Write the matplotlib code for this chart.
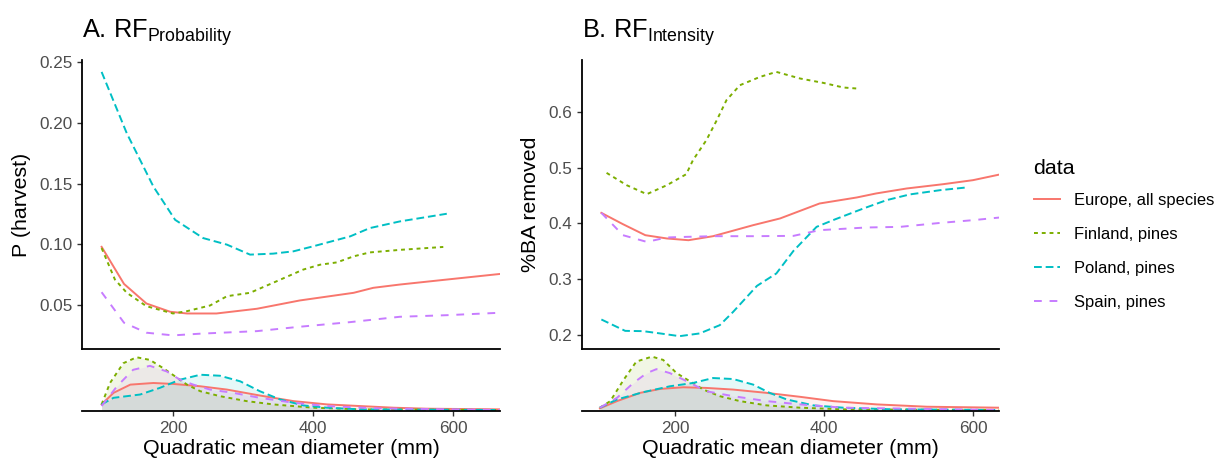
import matplotlib.pyplot as plt
from matplotlib.lines import Line2D

plt.rcParams['font.family'] = ['Liberation Sans', 'DejaVu Sans']
plt.rcParams['mathtext.fontset'] = 'custom'
plt.rcParams['mathtext.rm'] = 'Liberation Sans'

# series names, colours and line types
labels = ["Europe, all species", "Finland, pines", "Poland, pines", "Spain, pines"]
colors = ["#F8766D", "#7CAE00", "#00BFC4", "#C77CFF"]
styles = ["-", (0, (2, 2)), (0, (4, 2)), (0, (4, 4))]

# A. RF probability curves (x = QMD mm, y = P harvest)
prob_eu_x = [98, 130, 162, 196, 220, 262, 320, 381, 458, 486, 524, 591, 667]
prob_eu_y = [0.098, 0.0675, 0.0514, 0.0446, 0.0432, 0.0432, 0.0471, 0.0539, 0.0602, 0.0643, 0.067, 0.0711, 0.0757]
prob_fi_x = [98, 117, 134, 162, 200, 220, 253, 277, 310, 348, 386, 410, 434, 458, 481, 524, 586]
prob_fi_y = [0.097, 0.0711, 0.0602, 0.0492, 0.0432, 0.0451, 0.0498, 0.0574, 0.0602, 0.0697, 0.0793,
             0.0833, 0.0852, 0.0902, 0.0934, 0.0955, 0.0979]
prob_pl_x = [98, 134, 172, 203, 243, 277, 310, 343, 372, 400, 453, 481, 524, 591]
prob_pl_y = [0.2418, 0.1913, 0.1475, 0.1202, 0.1052, 0.0998, 0.0916, 0.0924, 0.0943, 0.0984, 0.1066,
             0.1134, 0.1189, 0.1252]
prob_es_x = [98, 130, 162, 200, 239, 320, 381, 453, 524, 591, 667]
prob_es_y = [0.0607, 0.0356, 0.0274, 0.0252, 0.0266, 0.0287, 0.0323, 0.0361, 0.0405, 0.0418, 0.0438]

# B. RF intensity curves (x = QMD mm, y = share of BA removed)
int_eu_x = [101, 130, 160, 189, 218, 251, 305, 341, 394, 444, 470, 511, 560, 600, 636]
int_eu_y = [0.419, 0.3987, 0.379, 0.3731, 0.37, 0.3772, 0.397, 0.409, 0.4358, 0.4466, 0.4538, 0.4627,
            0.4704, 0.4776, 0.4878]
int_fi_x = [108, 135, 162, 189, 215, 224, 242, 256, 269, 287, 314, 336, 368, 399, 426, 444]
int_fi_y = [0.4907, 0.4686, 0.4525, 0.4686, 0.4883, 0.5134, 0.5493, 0.5851, 0.621, 0.6478, 0.6627,
            0.6717, 0.6598, 0.652, 0.6437, 0.6419]
int_pl_x = [101, 133, 157, 180, 206, 233, 260, 278, 310, 336, 359, 390, 412, 453, 484, 515, 556, 591]
int_pl_y = [0.2279, 0.2075, 0.207, 0.2029, 0.198, 0.2029, 0.2177, 0.2416, 0.2882, 0.3104, 0.3509,
            0.3939, 0.4059, 0.4269, 0.4418, 0.452, 0.4597, 0.4645]
int_es_x = [101, 130, 162, 189, 215, 251, 305, 359, 394, 457, 502, 556, 600, 636]
int_es_y = [0.419, 0.379, 0.367, 0.3749, 0.376, 0.3772, 0.3772, 0.3778, 0.388, 0.3928, 0.3939, 0.401,
            0.4059, 0.4107]

# QMD density strips under each panel (relative density)
dens_a_eu_x = [98, 115, 139, 172, 201, 239, 277, 324, 372, 420, 467, 515, 562, 667]
dens_a_eu_y = [17, 52, 77, 82, 79, 72, 62, 44, 27, 17, 12, 7, 4, 2]
dens_a_fi_x = [98, 110, 129, 148, 167, 186, 203, 220, 239, 267, 305, 343, 400, 467, 667]
dens_a_fi_y = [17, 82, 142, 160, 152, 127, 102, 77, 57, 42, 27, 17, 7, 2, 0]
dens_a_pl_x = [98, 115, 153, 181, 210, 239, 267, 296, 324, 353, 386, 420, 467, 667]
dens_a_pl_y = [17, 37, 47, 67, 92, 107, 104, 87, 57, 32, 14, 7, 2, 0]
dens_a_es_x = [98, 120, 143, 167, 191, 210, 229, 253, 286, 324, 372, 420, 491, 667]
dens_a_es_y = [12, 72, 122, 134, 117, 92, 77, 62, 52, 37, 22, 12, 5, 0]

dens_b_eu_x = [99, 122, 153, 180, 211, 242, 278, 323, 368, 412, 471, 538, 636]
dens_b_eu_y = [5, 27, 52, 64, 69, 67, 62, 52, 40, 27, 17, 10, 7]
dens_b_fi_x = [99, 113, 131, 148, 169, 184, 202, 220, 238, 260, 287, 323, 368, 426, 636]
dens_b_fi_y = [7, 27, 92, 147, 162, 152, 112, 87, 62, 42, 27, 14, 7, 2, 0]
dens_b_pl_x = [99, 122, 157, 193, 224, 251, 278, 305, 327, 350, 386, 426, 493, 636]
dens_b_pl_y = [7, 32, 54, 72, 82, 97, 94, 77, 52, 32, 14, 7, 2, 0]
dens_b_es_x = [99, 122, 144, 162, 175, 193, 216, 242, 278, 323, 368, 426, 636]
dens_b_es_y = [7, 37, 82, 112, 124, 112, 87, 57, 42, 27, 17, 7, 0]

W, H = 1223, 463
fig = plt.figure(figsize=(W / 100, H / 100), dpi=100)


def px_box(left, top, right, bottom):
    return [left / W, (H - bottom) / H, (right - left) / W, (bottom - top) / H]


def style_main(ax):
    for s in ["top", "right"]:
        ax.spines[s].set_visible(False)
    for s in ["left", "bottom"]:
        ax.spines[s].set_linewidth(1.3)
        ax.spines[s].set_color("black")
    ax.tick_params(axis="y", labelsize=12.3, labelcolor="#4D4D4D", color="#333333", length=3.5, width=1)
    ax.tick_params(axis="x", bottom=False, labelbottom=False)


def style_dens(ax):
    for s in ["top", "right", "left"]:
        ax.spines[s].set_visible(False)
    ax.spines["bottom"].set_linewidth(1.3)
    ax.spines["bottom"].set_color("black")
    ax.set_yticks([])
    ax.tick_params(axis="x", labelsize=12.3, labelcolor="#4D4D4D", color="#333333", length=3.5, width=1)
    ax.set_xticks([200, 400, 600])
    ax.set_xlabel("Quadratic mean diameter (mm)", fontsize=15.4, labelpad=2)


panels = [
    dict(box=px_box(82, 60, 500, 349), dbox=px_box(82, 352, 500, 411), xlim=(70, 667),
         ylim=(0.014, 0.2516), yticks=[0.05, 0.10, 0.15, 0.20, 0.25], fmt="{:.2f}", ylabel="P (harvest)",
         title=r"A. RF$_{\mathrm{Probability}}$",
         lines=[(prob_eu_x, prob_eu_y), (prob_fi_x, prob_fi_y), (prob_pl_x, prob_pl_y), (prob_es_x, prob_es_y)],
         dens=[(dens_a_eu_x, dens_a_eu_y), (dens_a_fi_x, dens_a_fi_y), (dens_a_pl_x, dens_a_pl_y),
               (dens_a_es_x, dens_a_es_y)]),
    dict(box=px_box(582, 60, 999, 349), dbox=px_box(582, 352, 999, 411), xlim=(75, 635),
         ylim=(0.175, 0.693), yticks=[0.2, 0.3, 0.4, 0.5, 0.6], fmt="{:.1f}", ylabel="%BA removed",
         title=r"B. RF$_{\mathrm{Intensity}}$",
         lines=[(int_eu_x, int_eu_y), (int_fi_x, int_fi_y), (int_pl_x, int_pl_y), (int_es_x, int_es_y)],
         dens=[(dens_b_eu_x, dens_b_eu_y), (dens_b_fi_x, dens_b_fi_y), (dens_b_pl_x, dens_b_pl_y),
               (dens_b_es_x, dens_b_es_y)]),
]

for p in panels:
    ax = fig.add_axes(p["box"])
    for (x, y), c, ls in zip(p["lines"], colors, styles):
        ax.plot(x, y, color=c, linestyle=ls, linewidth=1.4)
    ax.set_xlim(p["xlim"])
    ax.set_ylim(p["ylim"])
    ax.set_yticks(p["yticks"])
    ax.set_yticklabels([p["fmt"].format(v) for v in p["yticks"]])
    ax.set_ylabel(p["ylabel"], fontsize=15.4, labelpad=6)
    style_main(ax)
    ax.set_title(p["title"], loc="left", fontsize=18.3, pad=16)

    axd = fig.add_axes(p["dbox"])
    for (x, y), c, ls in zip(p["dens"], colors, styles):
        axd.fill_between(x, 0, y, color=c, alpha=0.1, linewidth=0)
        axd.plot(x, y, color=c, linestyle=ls, linewidth=1.4)
    axd.set_xlim(p["xlim"])
    axd.set_ylim(-3, 176)
    style_dens(axd)

handles = [Line2D([], [], color=c, linestyle=ls, linewidth=1.4) for c, ls in zip(colors, styles)]
leg = fig.legend(handles, labels, title="data", loc="upper left", bbox_to_anchor=(1027 / W, 1 - 152 / H),
                 frameon=False, fontsize=11.9, title_fontsize=15.4, handlelength=1.6, handletextpad=0.85,
                 labelspacing=1.15, borderaxespad=0)
leg._legend_box.align = "left"
leg._legend_box.sep = 11

fig.savefig("out.png", dpi=100)
